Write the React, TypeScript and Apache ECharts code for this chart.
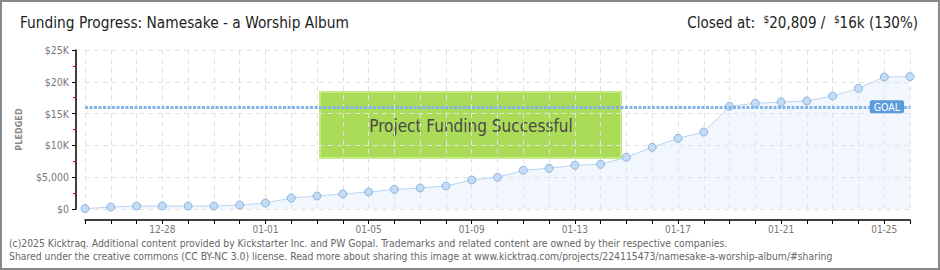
import React, { useEffect, useRef } from "react";
import * as echarts from "echarts";

const dates = [
  "12-25", "12-26", "12-27", "12-28", "12-29", "12-30", "12-31",
  "01-01", "01-02", "01-03", "01-04", "01-05", "01-06", "01-07", "01-08", "01-09",
  "01-10", "01-11", "01-12", "01-13", "01-14", "01-15", "01-16", "01-17", "01-18",
  "01-19", "01-20", "01-21", "01-22", "01-23", "01-24", "01-25", "01-26",
];
const pledged = [
  50, 310, 470, 470, 470, 470, 630,
  940, 1730, 2040, 2360, 2670, 3090, 3300, 3620, 4560,
  4980, 6080, 6400, 6870, 7030, 8130, 9700, 11110, 12100,
  16150, 16620, 16820, 16980, 17770, 18970, 20750, 20809,
];
const goal = 16000;
const yTicks = [0, 5000, 10000, 15000, 20000, 25000];
const yTickLabels = ["$0", "$5,000", "$10K", "$15K", "$20K", "$25K"];
const titleText = "Funding Progress: Namesake - a Worship Album";
const closedAmount = "20,809";
const goalShort = "16k";
const percent = "130%";
const footer1 =
  "(c)2025 Kicktraq. Additional content provided by Kickstarter Inc. and PW Gopal. Trademarks and related content are owned by their respective companies.";
const footer2 =
  "Shared under the creative commons (CC BY-NC 3.0) license. Read more about sharing this image at www.kicktraq.com/projects/224115473/namesake-a-worship-album/#sharing";

const FONT = "'DejaVu Sans Condensed', 'DejaVu Sans', sans-serif";

export default function App() {
  const ref = useRef<HTMLDivElement>(null);
  useEffect(() => {
    document.body.style.margin = "0";
    if (!ref.current) return;
    const chart = echarts.init(ref.current, null, { renderer: "svg" });
    chart.setOption({
      animation: false,
      backgroundColor: "#fff",
      grid: { left: 85, right: 30, top: 50, bottom: 61, containLabel: false },
      xAxis: {
        type: "category",
        data: dates,
        boundaryGap: false,
        offset: 11,
        axisLine: { show: true, onZero: false, lineStyle: { color: "#000", width: 1.5 } },
        axisTick: { show: true, interval: 0, length: 4, lineStyle: { color: "#000" } },
        axisLabel: {
          interval: (i: number) => (i - 3) % 4 === 0 && i >= 3,
          color: "#777",
          fontFamily: FONT,
          fontSize: 10,
          margin: 4,
        },
        splitLine: {
          show: true,
          interval: 0,
          lineStyle: { color: "#e2e2e2", type: [5, 4] },
        },
      },
      yAxis: {
        type: "value",
        min: 0,
        max: 25000,
        interval: 5000,
        offset: 9,
        name: "PLEDGED",
        nameLocation: "middle",
        nameGap: 53,
        nameTextStyle: { color: "#888", fontFamily: FONT, fontSize: 9, fontWeight: "bold" },
        axisLine: { show: true, lineStyle: { color: "#000", width: 1.5 } },
        axisTick: { show: true, length: 4, lineStyle: { color: "#000" } },
        minorTick: { show: true, splitNumber: 2, length: 3, lineStyle: { color: "#e00000" } },
        axisLabel: {
          color: "#777",
          fontFamily: FONT,
          fontSize: 10.5,
          margin: 7,
          formatter: (v: number) => yTickLabels[yTicks.indexOf(v)] ?? "",
        },
        splitLine: { show: true, lineStyle: { color: "#e2e2e2", type: [5, 4] } },
      },
      series: [
        {
          type: "line",
          data: pledged,
          symbol: "circle",
          symbolSize: 8,
          lineStyle: { color: "#b9d5f2", width: 1 },
          itemStyle: { color: "#c3dcf6", borderColor: "#8fb3dc", borderWidth: 1 },
          areaStyle: { color: "rgba(214,232,250,0.5)" },
          markLine: {
            silent: true,
            symbol: "none",
            data: [{ yAxis: goal }],
            lineStyle: { color: "#83b4e6", width: 3, type: [3, 1.5] },
            label: {
              show: true,
              formatter: "GOAL",
              position: "insideEndTop",
              distance: 0,
              offset: [-6, 6],
              color: "#fff",
              fontFamily: FONT,
              fontSize: 10.5,
              backgroundColor: "#5b9bdc",
              padding: [1, 4, 1, 4],
              borderRadius: 2,
            },
          },
        },
      ],
      graphic: [
        {
          type: "rect",
          z: 0,
          silent: true,
          shape: { x: 1, y: 1, width: 938, height: 268 },
          style: { fill: "none", stroke: "#888", lineWidth: 2 },
        },
        {
          type: "text",
          left: 20,
          top: 15,
          style: { text: titleText, fill: "#222", font: `15.3px ${FONT}` },
        },
        {
          type: "text",
          right: 22,
          top: 14,
          style: {
            text: `{a|Closed at:  }{s|$}{a|${closedAmount} /  }{s|$}{a|${goalShort} (${percent})}`,
            rich: {
              a: { fill: "#222", fontSize: 15, fontFamily: FONT, lineHeight: 18 },
              s: { fill: "#222", fontSize: 10, fontFamily: FONT, lineHeight: 18, verticalAlign: "top" },
            },
          },
        },
        {
          type: "group",
          z: 10,
          children: [
            {
              type: "rect",
              shape: { x: 320, y: 92, width: 301, height: 66 },
              style: { fill: "rgba(166,218,76,0.94)", stroke: "#c4eb86", lineWidth: 2 },
            },
            {
              type: "text",
              x: 471,
              y: 126,
              style: {
                text: "Project Funding Successful",
                fill: "#4a4a4a",
                font: `17px ${FONT}`,
                align: "center",
                verticalAlign: "middle",
                textShadowColor: "#fff",
                textShadowOffsetX: 1,
                textShadowOffsetY: 1,
                textShadowBlur: 0,
              },
            },
          ],
        },
        {
          type: "text",
          left: 9,
          top: 238,
          style: { text: footer1, fill: "#666", font: `10.3px ${FONT}` },
        },
        {
          type: "text",
          left: 9,
          top: 251,
          style: { text: footer2, fill: "#666", font: `10.3px ${FONT}` },
        },
      ],
    });
    return () => chart.dispose();
  }, []);
  return <div ref={ref} style={{ width: 940, height: 270 }} />;
}
